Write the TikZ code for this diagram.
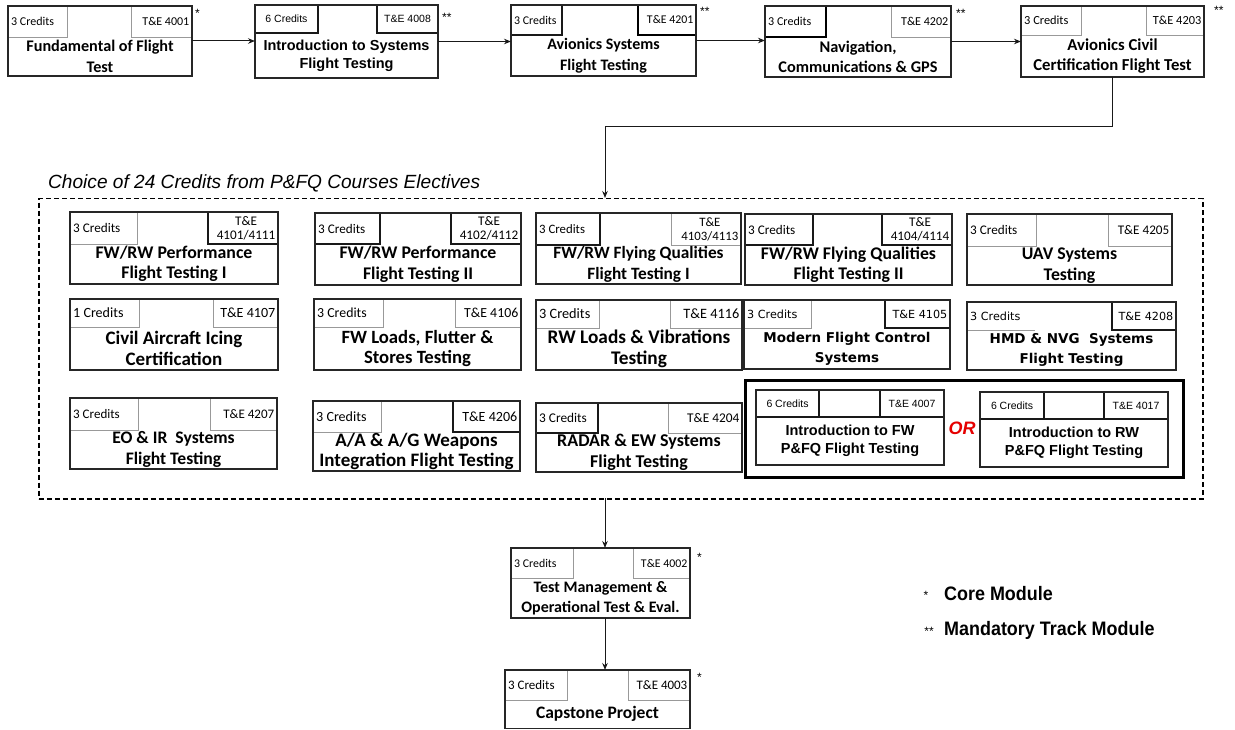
\documentclass[tikz,border=0pt]{standalone}
\usepackage{fontspec}
\setmainfont{Carlito}
\newfontfamily\arialf{Liberation Sans}
\newfontfamily\narrowf[FakeStretch=0.92]{Liberation Sans}
\newfontfamily\verdf{DejaVu Sans}
\usetikzlibrary{arrows.meta}
\newcommand\hcal{\fontsize{\crsHS}{\crsHB}\selectfont}
\newcommand\hari{\arialf\fontsize{10.5}{12.5}\selectfont}
\newcommand\hver{\verdf\fontsize{11.2}{13}\selectfont}
\tikzset{
  boxline/.style={draw=black!85, line width=1.1pt},
  cbox/.style={boxline, rectangle, inner sep=0pt, outer sep=0pt, fill=white},
  gsub/.style={draw=black!40, line width=0.9pt},
  ksub/.style={draw=black!90, line width=1.1pt},
  kth/.style={draw=black, line width=1.6pt},
  nsub/.style={draw=none},
  htxt/.style={inner sep=0pt, align=center},
  tcal/.style={inner sep=0pt, align=center, font=\bfseries\fontsize{\crsS}{20.5}\selectfont},
  tari/.style={inner sep=0pt, align=center, font=\arialf\bfseries\fontsize{14.5}{18}\selectfont},
  tver/.style={inner sep=0pt, align=center, font=\verdf\bfseries\fontsize{13.5}{20}\selectfont},
  arr/.style={-{Stealth[length=7pt,width=5.5pt]}, line width=1pt, draw=black!90},
  star/.style={inner sep=0pt, font=\arialf\fontsize{12}{12}\selectfont},
  dashbox/.style={draw=black, line width=1.5pt, dash pattern=on 5pt off 3pt, rectangle, inner sep=0pt},
  orbox/.style={draw=black, line width=3pt, rectangle, inner sep=0pt},
}
% main course box: name, left, top, right, bottom, title font size
\newcommand\crsbox[6]{\def\crsN{#1}\def\crsL{#2}\def\crsT{#3}\def\crsR{#4}\def\crsB{#5}\def\crsS{#6}%
  \pgfmathsetmacro\crsHS{0.74*#6}\pgfmathsetmacro\crsHB{0.8*#6}%
  \node[cbox, minimum width=#4pt-#2pt, minimum height=#5pt-#3pt, anchor=north west] (#1) at (#2,#3) {};}
% header (texts at the edges): credR, teL, hdY, credstyle, testyle, credtext, tetext, font
\newcommand\crshead[8]{\def\crsH{#3}%
  \draw[#4] (\crsL,\crsT) rectangle (#1,#3);
  \draw[#5] (#2,#3) rectangle (\crsR,\crsT);
  \node[htxt, font=#8, anchor=west] (\crsN-cr) at ({\crsL+3},{(\crsT+#3)/2}) {#6};
  \node[htxt, font=#8, anchor=east] (\crsN-te) at ({\crsR-2.5},{(\crsT+#3)/2}) {#7};}
% header (texts centred in their cells)
\newcommand\crsheadc[8]{\def\crsH{#3}%
  \draw[#4] (\crsL,\crsT) rectangle (#1,#3);
  \draw[#5] (#2,#3) rectangle (\crsR,\crsT);
  \node[htxt, font=#8] (\crsN-cr) at ({(\crsL+#1)/2},{(\crsT+#3)/2}) {#6};
  \node[htxt, font=#8] (\crsN-te) at ({(#2+\crsR)/2},{(\crsT+#3)/2}) {#7};}
\newcommand\crstitle[2]{%
  \node[#1] (\crsN-t) at ({(\crsL+\crsR)/2},{(\crsH+\crsB)/2}) {#2};
  \draw[boxline] (\crsN.north west) rectangle (\crsN.south east);}
\begin{document}
\begin{tikzpicture}[x=1pt,y=-1pt]
\useasboundingbox[fill=white] (0,0) rectangle (1235,730);

% ---- top row
\crsbox{b1}{8}{6}{192}{76}{16.2}
\crshead{67}{131}{37}{gsub}{gsub}{3 Credits}{T\&E 4001}{\hcal}
\crstitle{tcal}{Fundamental of Flight\\Test}
\crsbox{b2}{255}{5}{438}{78}{16}
\crsheadc{318}{377}{33}{ksub}{ksub}{6 Credits}{T\&E 4008}{\hari}
\crstitle{tari}{Introduction to Systems\\Flight Testing}
\crsbox{b3}{511}{5}{696}{76}{16}
\crshead{562}{638}{35}{ksub}{kth}{3 Credits}{T\&E 4201}{\hcal}
\crstitle{tcal}{Avionics Systems\\Flight Testing}
\crsbox{b4}{765}{6}{951}{77}{16.3}
\crshead{826}{891}{37}{kth}{gsub}{3 Credits}{T\&E 4202}{\hcal}
\crstitle{tcal}{Navigation,\\Communications \& GPS}
\crsbox{b5}{1021}{6}{1204}{77}{16.7}
\crshead{1081}{1146}{35}{gsub}{gsub}{3 Credits}{T\&E 4203}{\hcal}
\crstitle{tcal}{Avionics Civil\\Certification Flight Test}

\node[star, anchor=north west] (s1) at (195,9) {*};
\node[star, anchor=north west] (s2) at (442,13) {**};
\node[star, anchor=north west] (s3) at (700,7) {**};
\node[star, anchor=north west] (s4) at (956,9) {**};
\node[star, anchor=north west] (s5) at (1214,6) {**};

\draw[arr] (b1.east) -- (b1.east -| b2.west);
\draw[arr] (b2.east) -- (b2.east -| b3.west);
\draw[arr] (b3.east) -- (b3.east -| b4.west);
\draw[arr] (b4.east) -- (b4.east -| b5.west);

% ---- electives frame
\node[anchor=west, inner sep=0pt, font=\arialf\itshape\fontsize{19.1}{20}\selectfont] (ttl) at (48,183) {Choice of 24 Credits from P\&FQ Courses Electives};
\node[dashbox, minimum width=1164pt, minimum height=300pt, anchor=north west] (elect) at (38,198) {};
\coordinate (dIn) at (605,198);
\coordinate (dOut) at (605,498);
\draw[arr] (b5.south) -- ++(0,50) -| (dIn);

% row 1
\crsbox{A}{70}{212}{278}{284}{17.8}
\crshead{137}{208}{244}{gsub}{ksub}{3 Credits}{T\&E\\4101/4111}{\hcal}
\crstitle{tcal}{FW/RW Performance\\Flight Testing I}
\crsbox{B}{315}{213}{521}{285}{17.8}
\crshead{380}{451}{244}{ksub}{ksub}{3 Credits}{T\&E\\4102/4112}{\hcal}
\crstitle{tcal}{FW/RW Performance\\Flight Testing II}
\crsbox{C}{536}{213}{741}{284}{17.3}
\crshead{600}{671}{245}{ksub}{gsub}{3 Credits}{T\&E\\4103/4113}{\hcal}
\crstitle{tcal}{FW/RW Flying Qualities\\Flight Testing I}
\crsbox{D}{745}{214}{952}{285}{17.8}
\crshead{813}{882}{245}{ksub}{ksub}{3 Credits}{T\&E\\4104/4114}{\hcal}
\crstitle{tcal}{FW/RW Flying Qualities\\Flight Testing II}
\crsbox{E}{967}{214}{1172}{285}{17.8}
\crshead{1036}{1108}{246}{gsub}{gsub}{3 Credits}{T\&E 4205}{\hcal}
\crstitle{tcal}{UAV Systems\\Testing}

% row 2
\crsbox{F}{70}{299}{278}{370}{19}
\crshead{139}{213}{327}{gsub}{gsub}{1 Credits}{T\&E 4107}{\hcal}
\crstitle{tcal}{Civil Aircraft Icing\\Certification}
\crsbox{G}{314}{299}{521}{370}{18.7}
\crshead{383}{455}{327}{gsub}{gsub}{3 Credits}{T\&E 4106}{\hcal}
\crstitle{tcal}{FW Loads, Flutter \&\\Stores Testing}
\crsbox{H}{536}{300}{742}{370}{19.3}
\crshead{599}{670}{328}{gsub}{gsub}{3 Credits}{T\&E 4116}{\hcal}
\crstitle{tcal}{RW Loads \& Vibrations\\Testing}
\crsbox{I}{744}{300}{950}{369}{16}
\crshead{811}{885}{328}{gsub}{ksub}{3 Credits}{T\&E 4105}{\hver}
\crstitle{tver}{Modern Flight Control\\Systems}
\crsbox{J}{967}{302}{1176}{370}{16}
\crshead{1035}{1112}{330}{nsub}{ksub}{3 Credits}{T\&E 4208}{\hver}
\draw[gsub] (J.west |- 0,330) -- (1035,330);
\crstitle{tver}{HMD \& NVG~ Systems\\Flight Testing}

% row 3
\crsbox{K}{70}{398}{277}{469}{17.6}
\crshead{138}{210}{430}{gsub}{gsub}{3 Credits}{T\&E 4207}{\hcal}
\crstitle{tcal}{EO \& IR~ Systems\\Flight Testing}
\crsbox{L}{313}{401}{520}{471}{19}
\crshead{381}{453}{432}{gsub}{ksub}{3 Credits}{T\&E 4206}{\hcal}
\crstitle{tcal}{A/A \& A/G Weapons\\Integration Flight Testing}
\crsbox{M}{536}{403}{742}{472}{18}
\crshead{598}{668}{433}{ksub}{gsub}{3 Credits}{T\&E 4204}{\hcal}
\crstitle{tcal}{RADAR \& EW Systems\\Flight Testing}

% OR group
\node[orbox, minimum width=438pt, minimum height=97pt, anchor=north west] (orgrp) at (744,379) {};
\crsbox{N}{756}{390}{944}{465}{16}
\crsheadc{819}{880}{417}{ksub}{ksub}{6 Credits}{T\&E 4007}{\hari}
\draw[ksub] (N.west |- 0,417) -- (N.east |- 0,417);
\crstitle{tari}{Introduction to FW\\P\&FQ Flight Testing}
\crsbox{O}{980}{392}{1168}{467}{16}
\crsheadc{1044}{1104}{419}{ksub}{ksub}{6 Credits}{T\&E 4017}{\hari}
\draw[ksub] (O.west |- 0,419) -- (O.east |- 0,419);
\crstitle{tari}{Introduction to RW\\P\&FQ Flight Testing}
\node[inner sep=0pt, text=red!90!black, font=\arialf\bfseries\itshape\fontsize{18}{18}\selectfont] (or) at (962,428) {OR};

% ---- bottom
\crsbox{P}{511}{548}{690}{618}{16}
\crshead{573}{633}{578}{gsub}{gsub}{3 Credits}{T\&E 4002}{\hcal}
\crstitle{tcal}{Test Management \&\\Operational Test \& Eval.}
\crsbox{Q}{505}{670}{690}{728.5}{17.5}
\crshead{567}{628}{700}{gsub}{gsub}{3 Credits}{T\&E 4003}{\hcal}
\crstitle{tcal}{Capstone Project}
\node[star, anchor=north west] (s6) at (697,553) {*};
\node[star, anchor=north west] (s7) at (697,673) {*};

\draw[arr] (dOut) -- (dOut |- P.north);
\draw[arr] (P.south -| dOut) -- (Q.north -| dOut);

% ---- legend
\node[star, anchor=center] (l1s) at (926,595) {*};
\node[anchor=west, inner sep=0pt, font=\narrowf\bfseries\fontsize{19.5}{20}\selectfont] (l1) at (944,594) {Core Module};
\node[star, anchor=center] (l2s) at (929,631) {**};
\node[anchor=west, inner sep=0pt, font=\narrowf\bfseries\fontsize{19.5}{20}\selectfont] (l2) at (944,630) {Mandatory Track Module};
\end{tikzpicture}
\end{document}
